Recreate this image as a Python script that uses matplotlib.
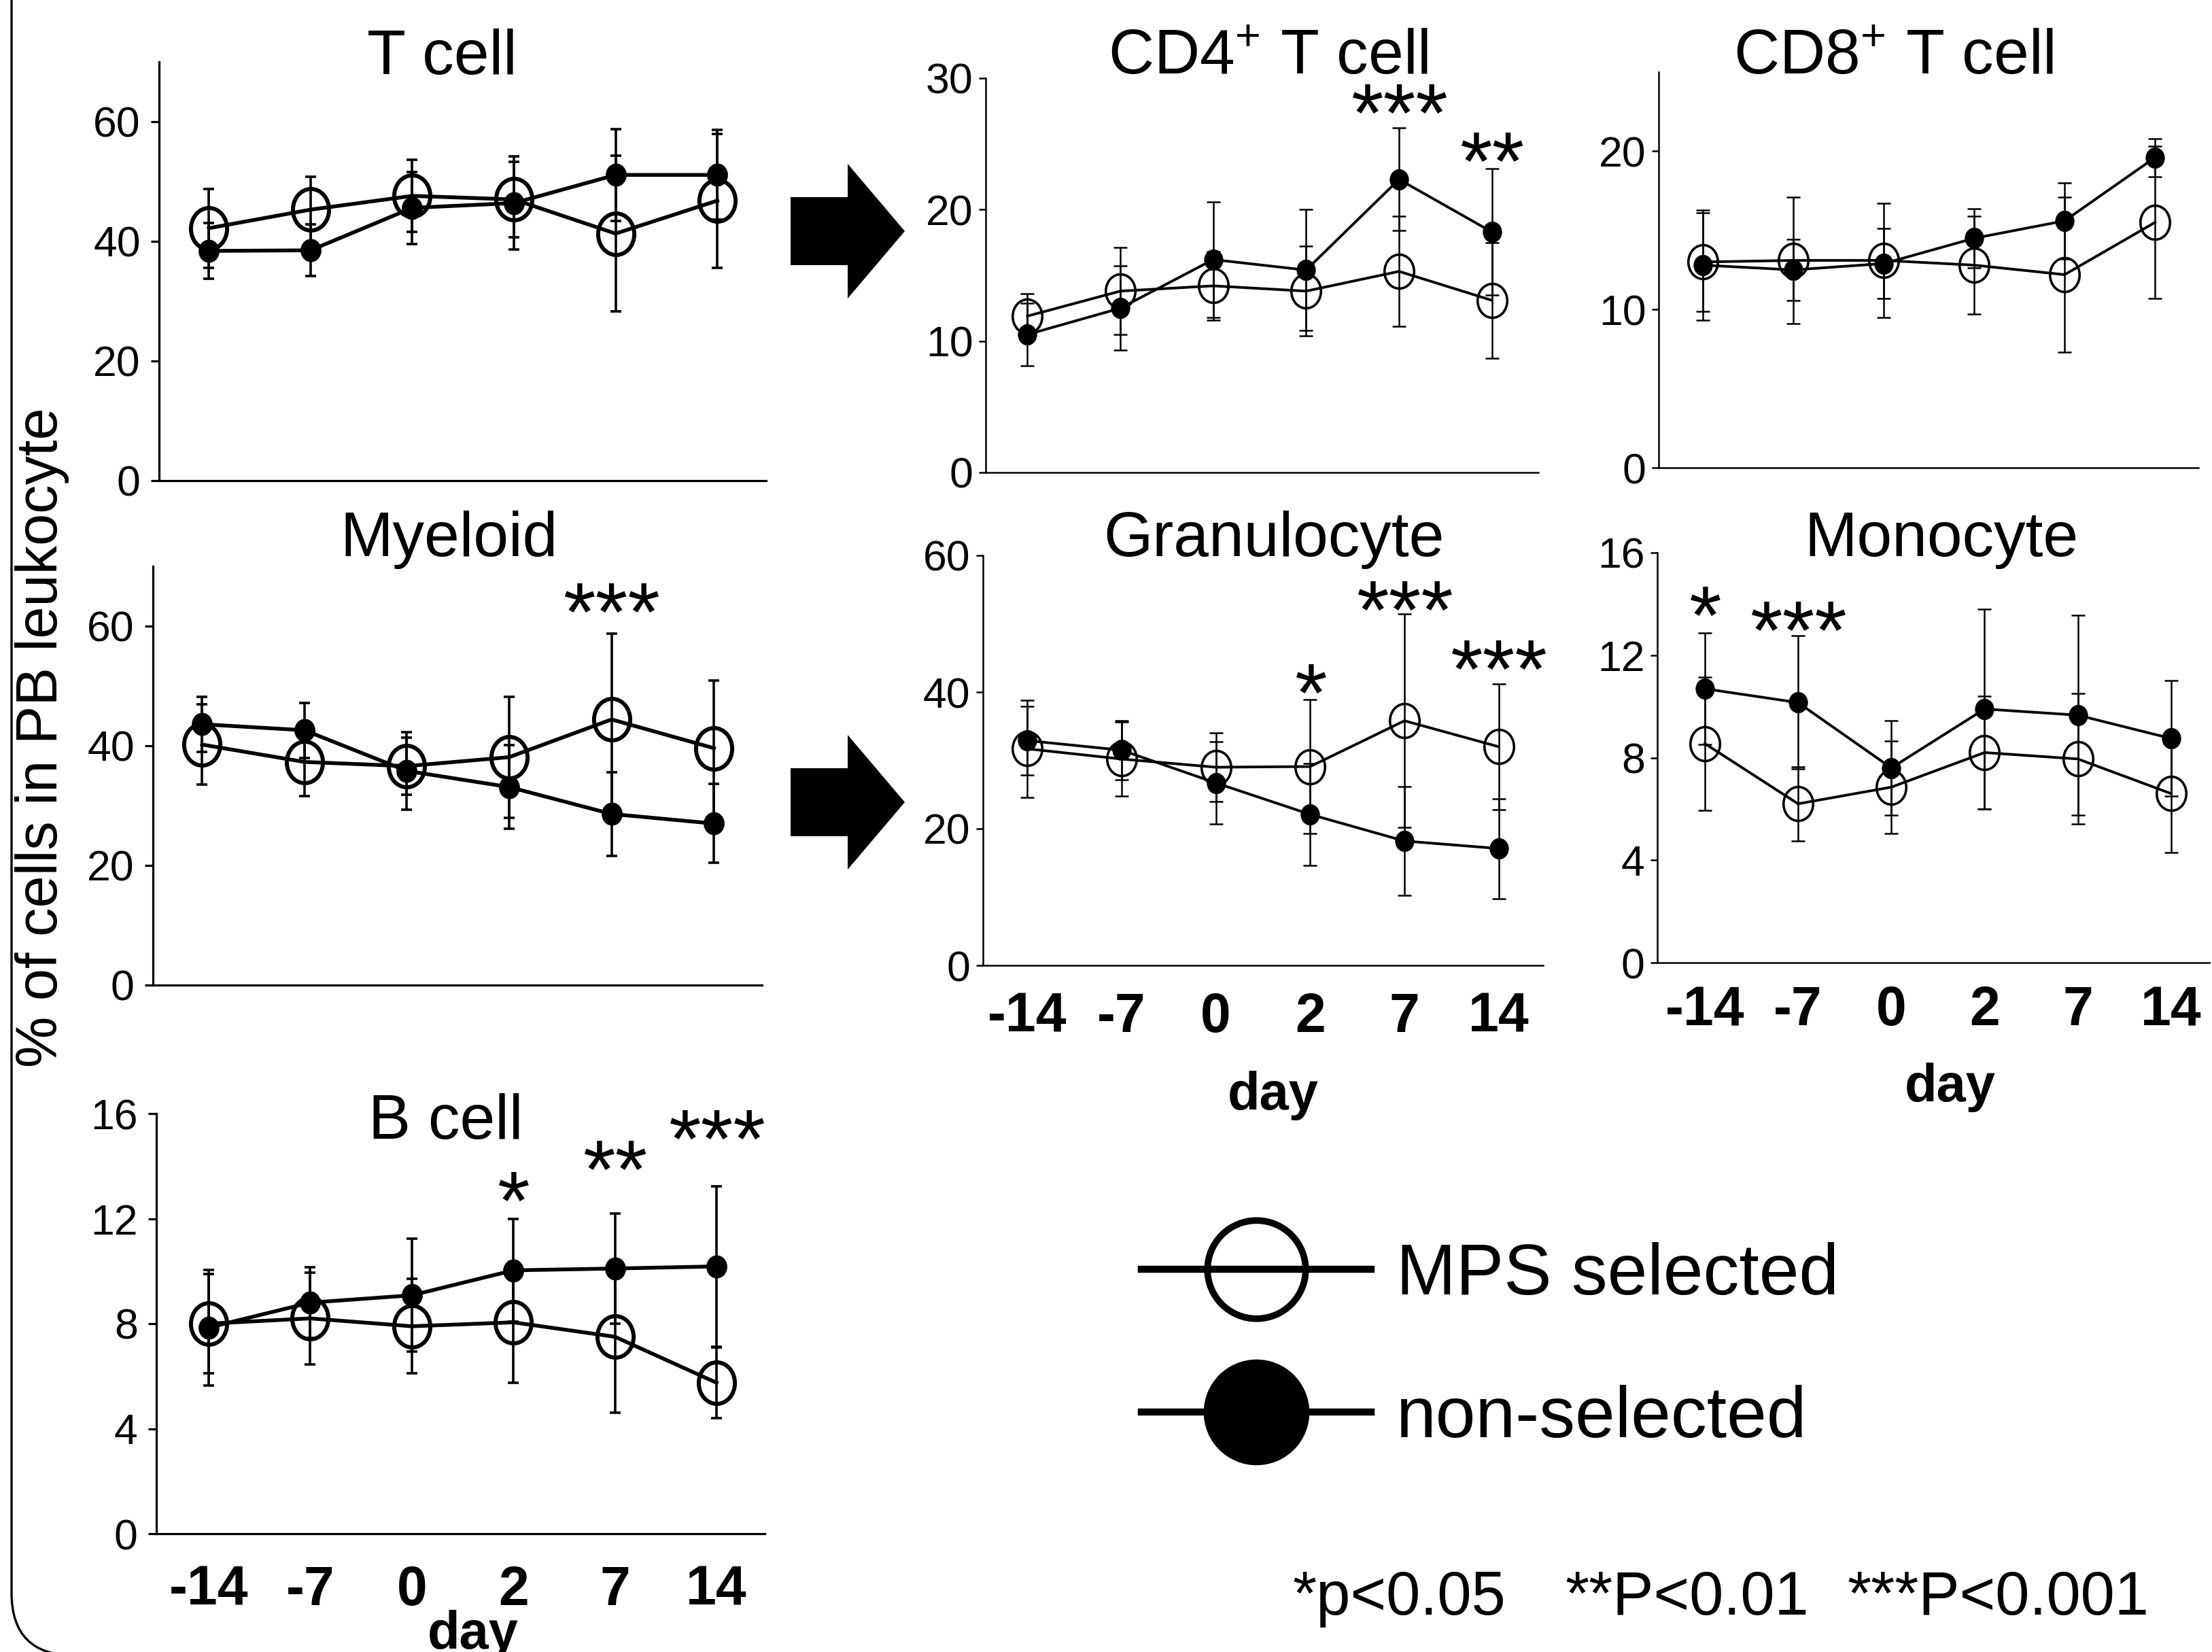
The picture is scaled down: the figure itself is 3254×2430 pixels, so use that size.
import numpy as np
import matplotlib
matplotlib.use('Agg')
import matplotlib.pyplot as plt
from matplotlib.path import Path
from matplotlib.transforms import Affine2D, IdentityTransform
from matplotlib.patches import Polygon, FancyBboxPatch
from matplotlib.lines import Line2D

plt.rcParams['font.family'] = ['Liberation Sans', 'DejaVu Sans']
plt.rcParams['mathtext.fontset'] = 'custom'
plt.rcParams['mathtext.rm'] = 'Liberation Sans'

# ---------------- data ----------------
days = ['-14', '-7', '0', '2', '7', '14']

tcell_mps = [42.2, 45.3, 47.6, 47.0, 41.3, 46.8]
tcell_mps_err = [6.6, 5.5, 6.0, 6.3, 13.0, 11.2]
tcell_non = [38.4, 38.5, 45.6, 46.4, 51.1, 51.1]
tcell_non_err = [4.7, 4.3, 6.0, 7.8, 7.7, 7.5]

myeloid_mps = [40.2, 37.3, 36.6, 38.1, 44.4, 39.6]
myeloid_mps_err = [6.7, 5.7, 4.8, 10.1, 14.4, 11.3]
myeloid_non = [43.6, 42.6, 35.8, 33.1, 28.6, 27.0]
myeloid_non_err = [4.6, 4.6, 6.5, 7.0, 7.0, 6.6]

bcell_mps = [8.0, 8.2, 7.9, 8.05, 7.5, 5.75]
bcell_mps_err = [1.9, 1.75, 1.8, 2.3, 2.9, 1.35]
bcell_non = [7.85, 8.8, 9.08, 10.03, 10.1, 10.18]
bcell_non_err = [2.2, 1.35, 2.15, 1.95, 2.1, 3.05]

cd4_mps = [11.9, 13.8, 14.2, 13.8, 15.3, 13.1]
cd4_mps_err = [1.7, 3.3, 2.6, 3.4, 4.2, 4.4]
cd4_non = [10.5, 12.5, 16.2, 15.4, 22.3, 18.3]
cd4_non_err = [2.4, 3.2, 4.4, 4.6, 3.9, 4.8]

cd8_mps = [13.0, 13.1, 13.1, 12.8, 12.2, 15.5]
cd8_mps_err = [3.1, 4.0, 3.6, 3.1, 4.9, 4.8]
cd8_non = [12.8, 12.5, 12.9, 14.5, 15.6, 19.6]
cd8_non_err = [3.5, 1.95, 2.2, 1.85, 2.4, 1.2]

gran_mps = [31.7, 30.2, 29.0, 29.1, 35.8, 32.0]
gran_mps_err = [7.1, 5.4, 5.0, 9.8, 15.6, 9.2]
gran_non = [32.9, 31.5, 26.7, 22.1, 18.2, 17.1]
gran_non_err = [5.0, 4.3, 6.0, 7.5, 8.0, 7.3]

mono_mps = [8.55, 6.2, 6.85, 8.2, 7.95, 6.6]
mono_mps_err = [2.6, 1.45, 1.8, 2.2, 2.55, 2.3]
mono_non = [10.69, 10.15, 7.6, 9.9, 9.66, 8.75]
mono_non_err = [2.18, 2.6, 1.85, 3.9, 3.9, 2.25]

# significance marks: day index, label, height (value units)
myeloid_sig_idx = [4]
myeloid_sig = ['***']
myeloid_sig_y = [65.5]
bcell_sig_idx = [3, 4, 5]
bcell_sig = ['*', '**', '***']
bcell_sig_y = [13.4, 14.6, 15.75]
cd4_sig_idx = [4, 5]
cd4_sig = ['***', '**']
cd4_sig_y = [28.8, 25.1]
gran_sig_idx = [3, 4, 5]
gran_sig = ['*', '***', '***']
gran_sig_y = [42.7, 54.8, 46.1]
mono_sig_idx = [0, 1]
mono_sig = ['*', '***']
mono_sig_y = [14.3, 13.7]

legend_labels = ['MPS selected', 'non-selected']
pvalue_texts = ['*p<0.05', '**P<0.01', '***P<0.001']
ylabel_text = '% of cells in PB leukocyte'

# ---------------- figure ----------------
W, H = 3255, 2430
fig = plt.figure(figsize=(W / 100, H / 100), dpi=100)


def fx(x):
    return x / W


def fy(y):
    return 1 - y / H


circ = Path.unit_circle()
ell_open = Path(Affine2D().scale(0.87, 1.0).transform(circ.vertices), circ.codes)
ell_fill = Path(Affine2D().scale(0.9, 1.0).transform(circ.vertices), circ.codes)

panels = [
    dict(title='T cell', mps=tcell_mps, mps_err=tcell_mps_err, non=tcell_non, non_err=tcell_non_err,
         sig=([], [], []), box=(234, 1127, 91, 707), xlim=(-0.49, 5.48), ylim=(0, 70),
         yticks=[0, 20, 40, 60], heavy=True, xlab=False, tpos=(650, 109)),
    dict(title='Myeloid', mps=myeloid_mps, mps_err=myeloid_mps_err, non=myeloid_non, non_err=myeloid_non_err,
         sig=(myeloid_sig_idx, myeloid_sig, myeloid_sig_y), box=(225, 1121, 833, 1449),
         xlim=(-0.48, 5.47), ylim=(0, 70), yticks=[0, 20, 40, 60], heavy=True, xlab=False,
         tpos=(661, 818)),
    dict(title='B cell', mps=bcell_mps, mps_err=bcell_mps_err, non=bcell_non, non_err=bcell_non_err,
         sig=(bcell_sig_idx, bcell_sig, bcell_sig_y), box=(230, 1125, 1638, 2256),
         xlim=(-0.515, 5.475), ylim=(0, 16), yticks=[0, 4, 8, 12, 16], heavy=True, xlab=True,
         xpad=33, tpos=(656, 1675)),
    dict(title='CD4$\\mathregular{^{+}}$ T cell', mps=cd4_mps, mps_err=cd4_mps_err, non=cd4_non,
         non_err=cd4_non_err, sig=(cd4_sig_idx, cd4_sig, cd4_sig_y), box=(1450, 2263, 115, 695),
         xlim=(-0.45, 5.5), ylim=(0, 30), yticks=[0, 10, 20, 30], heavy=False, xlab=False,
         tpos=(1866, 109)),
    dict(title='CD8$\\mathregular{^{+}}$ T cell', mps=cd8_mps, mps_err=cd8_mps_err, non=cd8_non,
         non_err=cd8_non_err, sig=([], [], []), box=(2440, 3234, 106, 688),
         xlim=(-0.49, 5.48), ylim=(0, 25), yticks=[0, 10, 20], heavy=False, xlab=False,
         tpos=(2786, 109)),
    dict(title='Granulocyte', mps=gran_mps, mps_err=gran_mps_err, non=gran_non, non_err=gran_non_err,
         sig=(gran_sig_idx, gran_sig, gran_sig_y), box=(1446, 2270, 817, 1420),
         xlim=(-0.47, 5.47), ylim=(0, 60), yticks=[0, 20, 40, 60], heavy=False, xlab=True,
         xpad=28, tpos=(1874, 818)),
    dict(title='Monocyte', mps=mono_mps, mps_err=mono_mps_err, non=mono_non, non_err=mono_non_err,
         sig=(mono_sig_idx, mono_sig, mono_sig_y), box=(2438, 3250, 813, 1416),
         xlim=(-0.51, 5.41), ylim=(0, 16), yticks=[0, 4, 8, 12, 16], heavy=False, xlab=True,
         xpad=24, tpos=(2856, 818)),
]

STAR_FS = 88
for p in panels:
    x0, x1, yt, yb = p['box']
    ax = fig.add_axes([fx(x0), fy(yb), (x1 - x0) / W, (yb - yt) / H])
    x = np.arange(len(days))
    if p['heavy']:
        lw, ew, cs, ms_o, mew_o, ms_f, spw, tl, tp = 4.0, 2.6, 6, 44, 4.3, 24, 2.3, 8.6, 11
    else:
        lw, ew, cs, ms_o, mew_o, ms_f, spw, tl, tp = 2.8, 1.8, 7, 36, 2.6, 22, 1.8, 7.2, 6
    ax.errorbar(x, p['mps'], yerr=p['mps_err'], fmt='none', ecolor='k', elinewidth=ew,
                capsize=cs, capthick=ew, zorder=2, clip_on=False)
    ax.errorbar(x, p['non'], yerr=p['non_err'], fmt='none', ecolor='k', elinewidth=ew,
                capsize=cs, capthick=ew, zorder=2, clip_on=False)
    ax.plot(x, p['mps'], '-', color='k', lw=lw, marker=ell_open, ms=ms_o, mfc='none',
            mec='k', mew=mew_o, zorder=3, clip_on=False)
    ax.plot(x, p['non'], '-', color='k', lw=lw, marker=ell_fill, ms=ms_f, mfc='k',
            mec='k', mew=0.5, zorder=4, clip_on=False)
    ax.set_xlim(*p['xlim'])
    ax.set_ylim(*p['ylim'])
    ax.set_yticks(p['yticks'])
    for s in ['top', 'right']:
        ax.spines[s].set_visible(False)
    for s in ['left', 'bottom']:
        ax.spines[s].set_linewidth(spw)
    ax.tick_params(axis='y', direction='out', length=tl, width=spw, labelsize=45, pad=tp)
    if p['xlab']:
        ax.set_xticks(x)
        ax.set_xticklabels(days, fontsize=58, fontweight='bold')
        ax.tick_params(axis='x', length=0, pad=p['xpad'])
    else:
        ax.set_xticks([])
    idx, labs, ys = p['sig']
    for i, s, yv in zip(idx, labs, ys):
        ax.annotate(s, xy=(i, yv), xytext=(0, -0.57 * STAR_FS), textcoords='offset points',
                    ha='center', va='baseline', fontsize=STAR_FS, annotation_clip=False)
    fig.text(fx(p['tpos'][0]), fy(p['tpos'][1]), p['title'], ha='center', va='baseline',
             fontsize=67)

# "day" labels
fig.text(fx(1873), fy(1611), 'day', ha='center', va='center', fontsize=56, fontweight='bold')
fig.text(fx(2869), fy(1600), 'day', ha='center', va='center', fontsize=56, fontweight='bold')
fig.text(fx(696), fy(2368), 'day', ha='center', va='top', fontsize=56, fontweight='bold')

# y label
fig.text(fx(62), fy(1085), ylabel_text, rotation=90, ha='center', va='center', fontsize=61)

# block arrows
for yc in [340, 1180]:
    pts = [(1163, yc - 50), (1247, yc - 50), (1247, yc - 99), (1331, yc),
           (1247, yc + 99), (1247, yc + 50), (1163, yc + 50)]
    fig.add_artist(Polygon([(fx(a), fy(b)) for a, b in pts], closed=True,
                           transform=fig.transFigure, facecolor='k', edgecolor='k', lw=0))

# rounded frame (left / bottom-left corner visible)
fig.add_artist(FancyBboxPatch((17, -5), 4000, 3000, boxstyle='round,pad=0,rounding_size=92',
                              transform=IdentityTransform(), fill=False, edgecolor='k', lw=2.4))

# legend
h_open = Line2D([], [], color='k', lw=7.5, marker=circ, ms=104, mfc='none', mec='k', mew=7)
h_fill = Line2D([], [], color='k', lw=7.5, marker=circ, ms=112, mfc='k', mec='k', mew=0)
fig.legend(handles=[h_open, h_fill], labels=legend_labels, loc='upper left',
           bbox_to_anchor=(fx(1679), fy(1827)), bbox_transform=fig.transFigure,
           frameon=False, fontsize=76, handlelength=3.2, handletextpad=0.35,
           labelspacing=1.05, borderpad=0, borderaxespad=0)

# p-value note
for xp, t in zip([1901, 2302, 2717], pvalue_texts):
    fig.text(fx(xp), fy(2375), t, ha='left', va='baseline', fontsize=65)

fig.savefig('out.png', dpi=100)
